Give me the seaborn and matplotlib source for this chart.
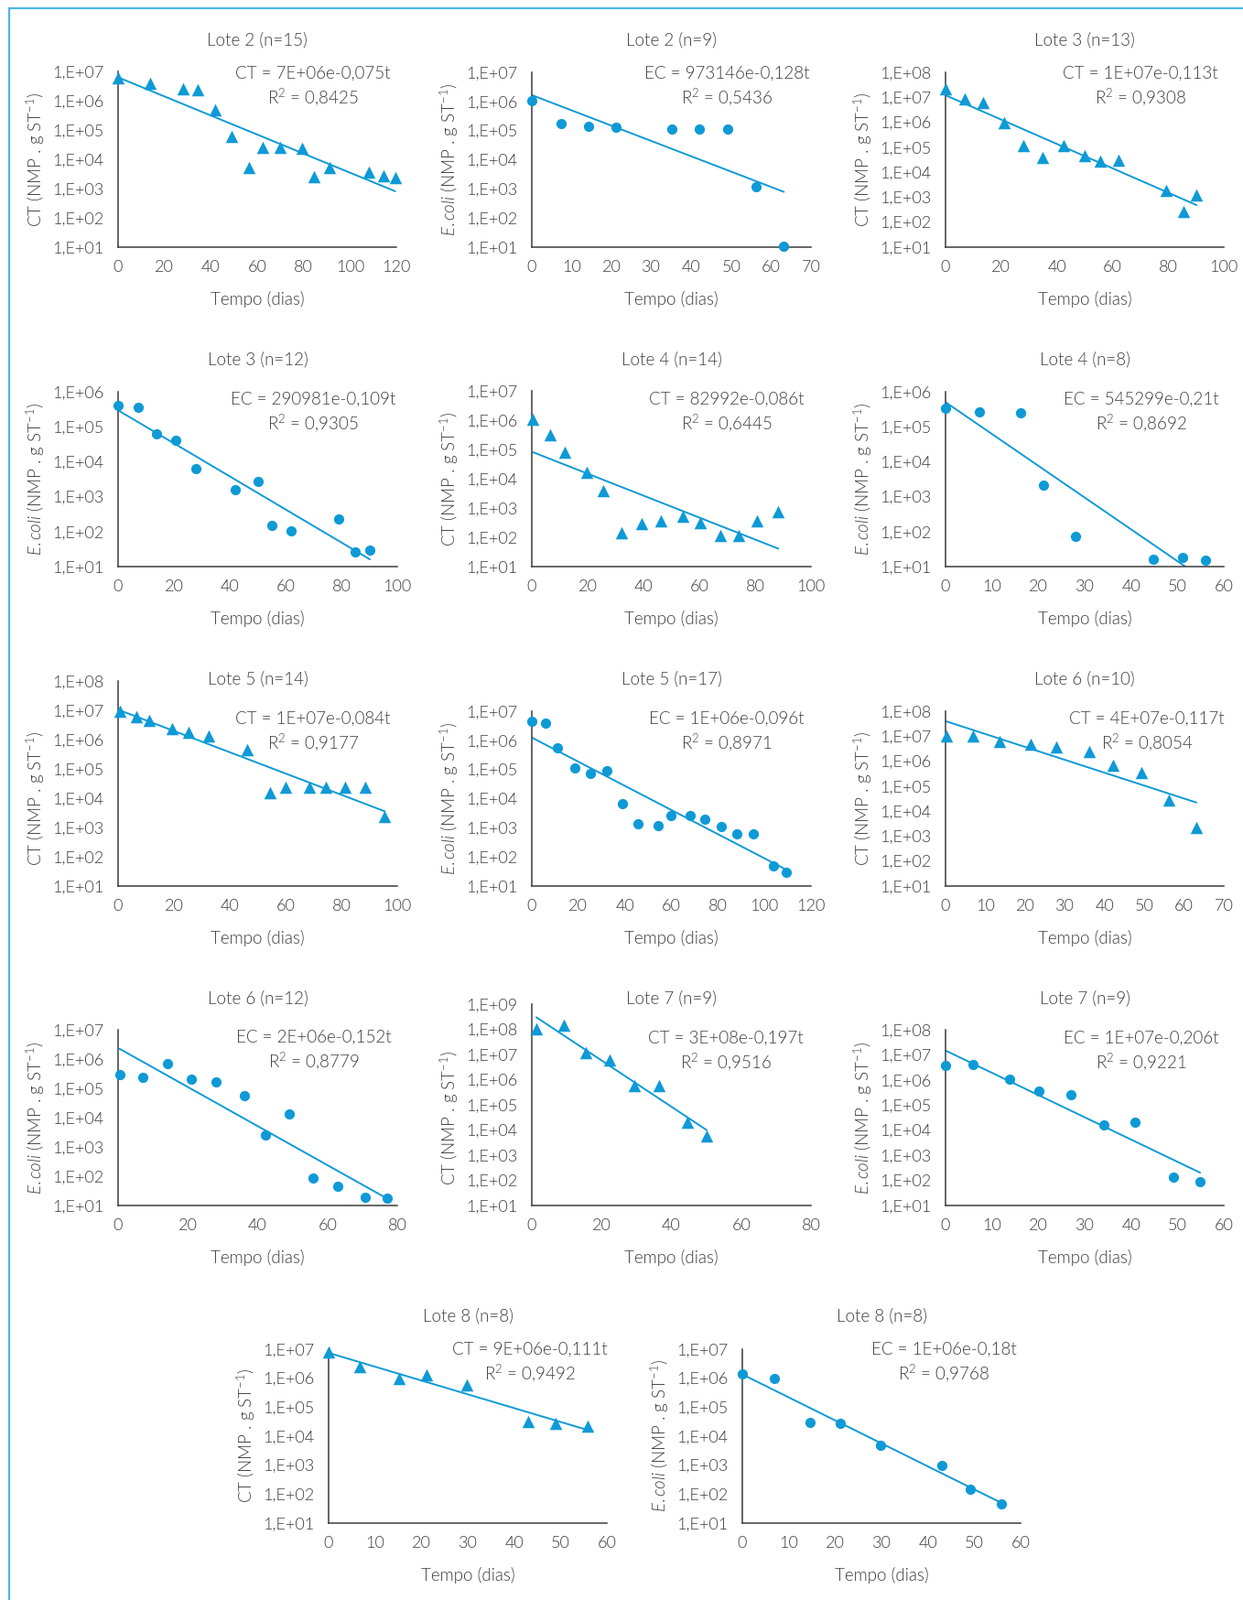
import numpy as np
import matplotlib
matplotlib.use('Agg')
import matplotlib.pyplot as plt
from matplotlib.ticker import FixedLocator, FixedFormatter, NullLocator
from matplotlib.lines import Line2D
import seaborn as sns

# values: tempo (dias) and NMP . g ST-1
lote2_ct_dias = [0, 13.7, 28.2, 34.5, 41.8, 49, 56.3, 62.4, 70, 79.2, 84.5, 91, 108, 114.5, 119.5]
lote2_ct_val = [6.2e6, 4e6, 2.5e6, 2.3e6, 4.7e5, 6.1e4, 5.3e3, 2.5e4, 2.5e4, 2.3e4, 2.5e3, 5.1e3, 3.6e3, 2.7e3, 2.3e3]

lote2_ec_dias = [0, 7.4, 14.2, 21.1, 35.1, 42, 49, 56.3, 63.2]
lote2_ec_val = [1.07e6, 1.8e5, 1.4e5, 1.27e5, 1.15e5, 1.15e5, 1.15e5, 1.15e3, 11]

lote3_ct_dias = [0, 7, 13.6, 21.2, 27.8, 35, 42.4, 50.1, 55.5, 62.1, 79.3, 85.6, 90.2]
lote3_ct_val = [2.1e7, 8.9e6, 6.3e6, 1.0e6, 1.2e5, 4.0e4, 1.2e5, 4.8e4, 2.9e4, 3.1e4, 1.9e3, 2.8e2, 1.26e3]

lote3_ec_dias = [0, 7.2, 13.9, 20.7, 27.8, 41.9, 50.2, 55, 62, 78.9, 84.8, 90.2]
lote3_ec_val = [4.1e5, 3.6e5, 6.3e4, 4.0e4, 6.3e3, 1.58e3, 2.8e3, 150, 107, 230, 26, 30]

lote4_ct_dias = [0.3, 6.5, 11.7, 19.6, 25.7, 32.1, 39.4, 46.2, 54.2, 60.2, 67.7, 74, 80.8, 88.3]
lote4_ct_val = [1.07e6, 3.2e5, 8.2e4, 1.6e4, 3.8e3, 144, 290, 365, 510, 310, 113, 113, 365, 770]

lote4_ec_dias = [0, 7.4, 16.1, 21.2, 28.0, 44.9, 51.2, 56]
lote4_ec_val = [3.3e5, 2.7e5, 2.45e5, 2.2e3, 71, 16.5, 18, 15]

lote5_ct_dias = [0.5, 6.6, 11.3, 19.5, 25.2, 32.3, 46.3, 54.3, 60.1, 68.4, 74.4, 81.4, 88.4, 95.5]
lote5_ct_val = [9.3e6, 6e6, 4.5e6, 2.3e6, 1.8e6, 1.35e6, 4.5e5, 1.58e4, 2.3e4, 2.3e4, 2.3e4, 2.3e4, 2.3e4, 2.3e3]

lote5_ec_dias = [0, 6.0, 11.2, 18.5, 25.2, 32.2, 39, 45.8, 54.2, 59.8, 68, 74.4, 81.3, 88.3, 95.4, 103.7, 109.2]
lote5_ec_val = [4.6e6, 4e6, 5.5e5, 1.1e5, 7.4e4, 9.3e4, 6.9e3, 1.4e3, 1.18e3, 2.6e3, 2.6e3, 1.95e3, 1.07e3, 620, 630, 48, 29]

lote6_ct_dias = [0.2, 7, 13.6, 21.3, 27.9, 36.1, 42.2, 49.2, 56.1, 63.1]
lote6_ct_val = [1.05e7, 1.05e7, 6.3e6, 4.9e6, 3.7e6, 2.5e6, 7e5, 3.4e5, 2.9e4, 2.2e3]

lote6_ec_dias = [0.4, 7, 14.1, 21.1, 28.1, 36.2, 42.1, 49.1, 55.9, 63, 70.8, 77.1]
lote6_ec_val = [2.9e5, 2.3e5, 6.8e5, 2e5, 1.6e5, 5.6e4, 2.5e3, 1.3e4, 85, 45, 19, 18]

lote7_ct_dias = [1.3, 9.2, 15.6, 22.2, 29.3, 36.4, 44.5, 50.1]
lote7_ct_val = [1.07e8, 1.4e8, 1.2e7, 5.9e6, 5.6e5, 6e5, 2.1e4, 5.6e3]

lote7_ec_dias = [0, 5.9, 13.75, 20.1, 27, 34.1, 40.9, 49.1, 54.9]
lote7_ec_val = [3.8e6, 4.2e6, 1.07e6, 3.5e5, 2.6e5, 1.55e4, 2.1e4, 135, 87]

lote8_ct_dias = [0, 6.8, 15.2, 21.1, 29.9, 43.1, 49, 55.8]
lote8_ct_val = [8e6, 2.5e6, 1e6, 1.3e6, 5.8e5, 3.1e4, 2.7e4, 2.3e4]

lote8_ec_dias = [0, 7, 14.7, 21.1, 29.9, 43.1, 49.2, 55.8]
lote8_ec_val = [1.4e6, 9.5e5, 2.9e4, 2.7e4, 4.8e3, 1.0e3, 145, 47]

titulos = ['Lote 2 (n=15)', 'Lote 2 (n=9)', 'Lote 3 (n=13)', 'Lote 3 (n=12)', 'Lote 4 (n=14)',
           'Lote 4 (n=8)', 'Lote 5 (n=14)', 'Lote 5 (n=17)', 'Lote 6 (n=10)', 'Lote 6 (n=12)',
           'Lote 7 (n=9)', 'Lote 7 (n=9)', 'Lote 8 (n=8)', 'Lote 8 (n=8)']
equacoes = ['CT = 7E+06e-0,075t', 'EC = 973146e-0,128t', 'CT = 1E+07e-0,113t', 'EC = 290981e-0,109t',
            'CT = 82992e-0,086t', 'EC = 545299e-0,21t', 'CT = 1E+07e-0,084t', 'EC = 1E+06e-0,096t',
            'CT = 4E+07e-0,117t', 'EC = 2E+06e-0,152t', 'CT = 3E+08e-0,197t', 'EC = 1E+07e-0,206t',
            'CT = 9E+06e-0,111t', 'EC = 1E+06e-0,18t']
r2 = ['0,8425', '0,5436', '0,9308', '0,9305', '0,6445', '0,8692', '0,9177', '0,8971',
      '0,8054', '0,8779', '0,9516', '0,9221', '0,9492', '0,9768']
tipo = ['CT', 'EC', 'CT', 'EC', 'CT', 'EC', 'CT', 'EC', 'CT', 'EC', 'CT', 'EC', 'CT', 'EC']
y_decada_max = [7, 7, 8, 6, 7, 6, 8, 7, 8, 7, 9, 8, 7, 7]
x_max = [120, 70, 100, 100, 100, 60, 100, 120, 70, 80, 80, 60, 60, 60]
x_passo = [20, 10, 20, 20, 20, 10, 20, 20, 10, 20, 20, 10, 10, 10]

series = [(lote2_ct_dias, lote2_ct_val), (lote2_ec_dias, lote2_ec_val),
          (lote3_ct_dias, lote3_ct_val), (lote3_ec_dias, lote3_ec_val),
          (lote4_ct_dias, lote4_ct_val), (lote4_ec_dias, lote4_ec_val),
          (lote5_ct_dias, lote5_ct_val), (lote5_ec_dias, lote5_ec_val),
          (lote6_ct_dias, lote6_ct_val), (lote6_ec_dias, lote6_ec_val),
          (lote7_ct_dias, lote7_ct_val), (lote7_ec_dias, lote7_ec_val),
          (lote8_ct_dias, lote8_ct_val), (lote8_ec_dias, lote8_ec_val)]

# plot areas in pixels: left, right, top, bottom
W, H = 1358, 1748
caixas = [(129, 433, 78, 270), (581, 886, 79, 270), (1033, 1337, 79, 270),
          (129, 434, 428, 619), (581, 886, 427, 619), (1033, 1337, 428, 619),
          (129, 434, 744, 968), (581, 886, 777, 968), (1033, 1337, 777, 968),
          (129, 434, 1125, 1317), (581, 886, 1097, 1317), (1033, 1337, 1125, 1317),
          (359, 663, 1474, 1664), (811, 1115, 1474, 1664)]
eq_dx = [213, 213, 213, 213, 213, 214, 213, 213, 220, 214, 212, 214, 220, 220]
eq_dy = [190, 190, 190, 183, 183, 183, 183, 183, 183, 184, 183, 183, 190, 190]

azul = '#0d9ad6'
cinza = '#3c3c3c'

sns.set_style('white')
plt.rcParams['font.family'] = ['Lato', 'DejaVu Sans']
plt.rcParams['font.weight'] = 300
plt.rcParams['axes.labelweight'] = 300
plt.rcParams['mathtext.fontset'] = 'custom'
plt.rcParams['mathtext.rm'] = 'Lato'
plt.rcParams['mathtext.it'] = 'Lato:italic'
plt.rcParams['text.color'] = cinza
plt.rcParams['axes.labelcolor'] = cinza

fig = plt.figure(figsize=(W / 100, H / 100), dpi=100)
fs = 13.5

for i, (dias, val) in enumerate(series):
    l, r, t, b = caixas[i]
    wpx, hpx = r - l, b - t
    ax = fig.add_axes([l / W, 1 - b / H, wpx / W, hpx / H])
    ax.set_yscale('log')

    # exponential trend line fitted like the spreadsheet does (least squares on ln y)
    dias_a = np.array(dias)
    coef = np.polyfit(dias_a, np.log(np.array(val)), 1)
    tt = np.linspace(dias_a.min(), dias_a.max(), 100)
    sns.lineplot(x=tt, y=np.exp(np.polyval(coef, tt)), ax=ax, color=azul, lw=1.4, zorder=2)

    marcador = '^' if tipo[i] == 'CT' else 'o'
    tamanho = 95 if tipo[i] == 'CT' else 65
    sns.scatterplot(x=dias, y=val, ax=ax, marker=marcador, s=tamanho, color=azul,
                    linewidth=0, zorder=3, clip_on=False)

    ax.set_xlim(0, x_max[i])
    ax.set_ylim(10, 10.0 ** y_decada_max[i])
    ax.xaxis.set_major_locator(FixedLocator(np.arange(0, x_max[i] + 1, x_passo[i])))
    decadas = list(range(1, y_decada_max[i] + 1))
    ax.yaxis.set_major_locator(FixedLocator([10.0 ** k for k in decadas]))
    ax.yaxis.set_major_formatter(FixedFormatter(['1,E+%02d' % k for k in decadas]))
    ax.yaxis.set_minor_locator(NullLocator())

    for s in ['top', 'right']:
        ax.spines[s].set_visible(False)
    for s in ['left', 'bottom']:
        ax.spines[s].set_color(cinza)
        ax.spines[s].set_linewidth(1.1)
    ax.tick_params(axis='both', direction='out', length=5, width=1.1, color=cinza,
                   labelsize=fs - 0.5, labelcolor=cinza)
    ax.tick_params(axis='x', pad=5)
    ax.tick_params(axis='y', pad=6)

    if tipo[i] == 'CT':
        ax.set_ylabel(r'CT (NMP . g ST$^{-1}$)', fontsize=fs, va='center')
    else:
        ax.set_ylabel(r'$\mathit{E.coli}$ (NMP . g ST$^{-1}$)', fontsize=fs, va='center')
    ax.yaxis.set_label_coords(-90 / wpx, 96 / hpx)
    ax.set_xlabel('Tempo (dias)', fontsize=fs, va='center')
    ax.xaxis.set_label_coords(0.5, -57 / hpx)

    fig.text((l + r) / 2 / W, 1 - (b - 226) / H, titulos[i], fontsize=fs,
             ha='center', va='center')
    fig.text((l + eq_dx[i]) / W, 1 - (b - eq_dy[i]) / H, equacoes[i], fontsize=fs,
             ha='center', va='center')
    fig.text((l + eq_dx[i]) / W, 1 - (b - eq_dy[i] + 26) / H, r'R$^2$ = ' + r2[i],
             fontsize=fs, ha='center', va='center')

# light blue frame (left and top)
fig.add_artist(Line2D([10 / W, 10 / W], [0, 1 - 9 / H], color='#4db8e8', lw=1.6))
fig.add_artist(Line2D([10 / W, 1], [1 - 9 / H, 1 - 9 / H], color='#4db8e8', lw=1.6))

fig.savefig('out.png', dpi=100)
plt.close(fig)
